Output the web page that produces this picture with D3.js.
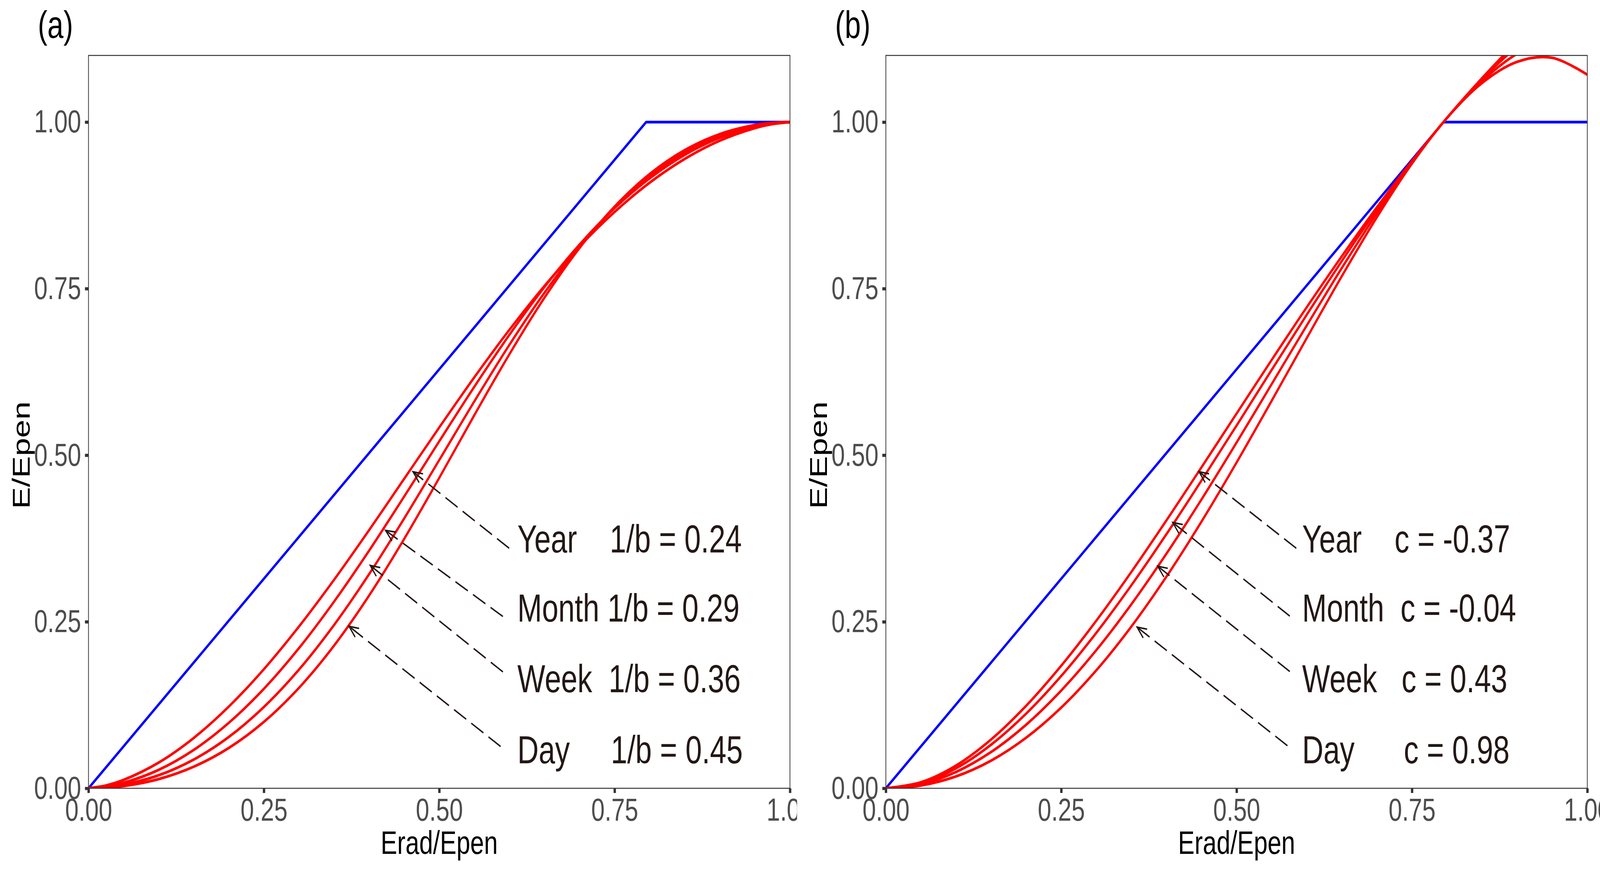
<!DOCTYPE html>
<html lang="en">
  <head>
    <meta charset="utf-8">
    <title>E/Epen vs Erad/Epen</title>
    <script type="text/javascript" src="https://cdn.jsdelivr.net/npm/d3@7"></script>
    <style type="text/css">
      html, body { margin: 0; padding: 0; background: #fff; overflow: hidden; }
      svg { display: block; width: 100vw; height: 100vh; }
      text { font-family: "Liberation Sans", Arial, sans-serif; }
      .lab { white-space: pre; }
    </style>
  </head>
  <body>
    <script type="text/javascript">

      //Tick values and labels (both axes)
      var ticks = [0, 0.25, 0.5, 0.75, 1];
      var tickLabels = ["0.00", "0.25", "0.50", "0.75", "1.00"];

      //Blue reference line
      var blueX = [0, 0.795, 1];
      var blueY = [0, 1, 1];

      //Panel (a) red curves
      var gridA = [0, 0.025, 0.05, 0.1, 0.15, 0.2, 0.25, 0.3, 0.35, 0.4, 0.45, 0.5,
                   0.55, 0.6, 0.65, 0.7, 0.75, 0.8, 0.85, 0.9, 0.95, 0.975, 1];
      var aYear  = [0, 0.0042, 0.0125, 0.0385, 0.0755, 0.1226, 0.1787, 0.2427, 0.3129, 0.3875, 0.4645, 0.5416,
                    0.6168, 0.6881, 0.7540, 0.8133, 0.8651, 0.9090, 0.9447, 0.9721, 0.9910, 0.9970, 1];
      var aMonth = [0, 0.0025, 0.0081, 0.0276, 0.0575, 0.0982, 0.1493, 0.2103, 0.2801, 0.3567, 0.4379, 0.5208,
                    0.6027, 0.6806, 0.7523, 0.8161, 0.8707, 0.9156, 0.9509, 0.9766, 0.9931, 0.9979, 1];
      var aWeek  = [0, 0.0015, 0.0053, 0.0195, 0.0431, 0.0770, 0.1220, 0.1781, 0.2450, 0.3214, 0.4050, 0.4926,
                    0.5807, 0.6656, 0.7438, 0.8131, 0.8716, 0.9186, 0.9544, 0.9794, 0.9944, 0.9984, 1];
      var aDay   = [0, 0.0009, 0.0034, 0.0138, 0.0324, 0.0605, 0.0996, 0.1507, 0.2141, 0.2893, 0.3743, 0.4659,
                    0.5600, 0.6515, 0.7364, 0.8110, 0.8731, 0.9220, 0.9579, 0.9819, 0.9955, 0.9988, 1];

      //Panel (b) red curves
      var gridB = [0, 0.05, 0.1, 0.15, 0.2, 0.25, 0.3, 0.35, 0.4, 0.45, 0.5,
                   0.55, 0.6, 0.65, 0.7, 0.75, 0.8, 0.85, 0.9, 0.95, 1];
      var bYear  = [0, 0.0090, 0.0341, 0.0732, 0.1238, 0.1839, 0.2515, 0.3248, 0.4021, 0.4818, 0.5625,
                    0.6429, 0.7220, 0.7986, 0.8720, 0.9414, 1.0063, 1.0661, 1.1206, 1.1696, 1.2132];
      var bMonth = [0, 0.0078, 0.0301, 0.0654, 0.1121, 0.1685, 0.2333, 0.3047, 0.3814, 0.4619, 0.5445,
                    0.6279, 0.7107, 0.7913, 0.8684, 0.9405, 1.0063, 1.0643, 1.1132, 1.1517, 1.1784];
      var bWeek  = [0, 0.0062, 0.0245, 0.0544, 0.0954, 0.1467, 0.2073, 0.2762, 0.3521, 0.4335, 0.5189,
                    0.6066, 0.6946, 0.7809, 0.8632, 0.9392, 1.0062, 1.0617, 1.1027, 1.1262, 1.1290];
      var bDay   = [0, 0.0043, 0.0178, 0.0415, 0.0759, 0.1211, 0.1770, 0.2428, 0.3177, 0.4003, 0.4890,
                    0.5816, 0.6757, 0.7686, 0.8571, 0.9376, 1.0062, 1.0587, 1.0904, 1.0964, 1.0711];

      //Annotation labels
      var labelsA = ["Year    1/b = 0.24", "Month 1/b = 0.29", "Week  1/b = 0.36", "Day     1/b = 0.45"];
      var labelsB = ["Year    c = -0.37", "Month  c = -0.04", "Week   c = 0.43", "Day      c = 0.98"];
      var labelY = [0.354, 0.25, 0.144, 0.0375];

      //Arrows: tip on the curve, tail next to the label (data units)
      var arrowsA = [[0.4626, 0.4751, 0.5997, 0.3603],
                     [0.4235, 0.3870, 0.5908, 0.2578],
                     [0.4016, 0.3345, 0.5908, 0.1746],
                     [0.3714, 0.2431, 0.5875, 0.0627]];
      var arrowsB = [[0.4464, 0.4751, 0.5851, 0.3603],
                     [0.4090, 0.3990, 0.5759, 0.2584],
                     [0.3876, 0.3333, 0.5759, 0.1752],
                     [0.3581, 0.2419, 0.5725, 0.0639]];

      //Width and height (drawing units; the svg is stretched to the window)
      var w = 5424;
      var h = 2236;
      var figW = 2703;

      var panels = [
        { tag: "(a)", off: 0, grid: gridA, curves: [aYear, aMonth, aWeek, aDay],
          labels: labelsA, labelX: 0.6114, arrows: arrowsA, clipW: 2702 },
        { tag: "(b)", off: figW, grid: gridB, curves: [bYear, bMonth, bWeek, bDay],
          labels: labelsB, labelX: 0.5935, arrows: arrowsB, clipW: w - figW }
      ];

      var svg = d3.select("body")
            .append("svg")
            .attr("viewBox", "0 0 " + w + " " + h)
            .attr("preserveAspectRatio", "none");

      var defs = svg.append("defs");
      defs.append("marker")
          .attr("id", "arr")
          .attr("markerUnits", "userSpaceOnUse")
          .attr("viewBox", "-40 -25 50 50")
          .attr("markerWidth", 50)
          .attr("markerHeight", 50)
          .attr("refX", 0)
          .attr("refY", 0)
          .attr("orient", "auto")
          .append("path")
          .attr("d", "M-32,-13L0,0L-32,13")
          .attr("fill", "none")
          .attr("stroke", "#231815")
          .attr("stroke-width", 4);

      panels.forEach(function(p, i) {
        var left = p.off + 300, right = p.off + 2678, top = 142, bottom = 2019;

        var xScale = d3.scaleLinear().domain([0, 1]).range([left, right]);
        var yScale = d3.scaleLinear().domain([0, 1.1]).range([bottom, top]);

        defs.append("clipPath").attr("id", "fig" + i)
            .append("rect").attr("x", p.off).attr("y", 0).attr("width", p.clipW).attr("height", h);
        defs.append("clipPath").attr("id", "plot" + i)
            .append("rect").attr("x", left).attr("y", top).attr("width", right - left).attr("height", bottom - top);

        var g = svg.append("g").attr("clip-path", "url(#fig" + i + ")");
        var plot = g.append("g").attr("clip-path", "url(#plot" + i + ")");

        var line = d3.line()
            .x(function(d) { return xScale(d[0]); })
            .y(function(d) { return yScale(d[1]); })
            .curve(d3.curveCatmullRom);

        //Blue line
        plot.append("path")
            .datum(blueX.map(function(x, k) { return [x, blueY[k]]; }))
            .attr("d", d3.line().x(function(d) { return xScale(d[0]); }).y(function(d) { return yScale(d[1]); }))
            .attr("fill", "none")
            .attr("stroke", "#0000FF")
            .attr("stroke-width", 7)
            .attr("stroke-linejoin", "round");

        //Red curves
        plot.selectAll("path.red")
            .data(p.curves)
            .enter()
            .append("path")
            .attr("class", "red")
            .attr("d", function(c) {
              return line(p.grid.map(function(x, k) { return [x, c[k]]; }));
            })
            .attr("fill", "none")
            .attr("stroke", "#FF0000")
            .attr("stroke-width", 7);

        //Arrows
        plot.selectAll("path.arrow")
            .data(p.arrows)
            .enter()
            .append("path")
            .attr("class", "arrow")
            .attr("d", function(a) {
              return "M" + xScale(a[2]) + "," + yScale(a[3]) + "L" + xScale(a[0]) + "," + yScale(a[1]);
            })
            .attr("fill", "none")
            .attr("stroke", "#231815")
            .attr("stroke-width", 4)
            .attr("stroke-dasharray", "48,20")
            .attr("marker-end", "url(#arr)");

        //Labels
        plot.selectAll("text.lab")
            .data(p.labels)
            .enter()
            .append("text")
            .attr("class", "lab")
            .attr("xml:space", "preserve")
            .attr("x", xScale(p.labelX))
            .attr("y", function(d, k) { return yScale(labelY[k]); })
            .attr("font-size", 100)
            .attr("fill", "#231815")
            .text(function(d) { return d; });

        //Panel border
        g.append("rect")
            .attr("x", left).attr("y", top)
            .attr("width", right - left).attr("height", bottom - top)
            .attr("fill", "none")
            .attr("stroke", "#333333")
            .attr("stroke-width", 2.5);

        //Axes
        var fmt = function(d) { return tickLabels[ticks.indexOf(d)]; };
        var xAxis = g.append("g")
            .attr("transform", "translate(0," + bottom + ")")
            .call(d3.axisBottom(xScale).tickValues(ticks).tickFormat(fmt).tickSize(12).tickPadding(13));
        var yAxis = g.append("g")
            .attr("transform", "translate(" + left + ",0)")
            .call(d3.axisLeft(yScale).tickValues(ticks).tickFormat(fmt).tickSize(12).tickPadding(13));
        [xAxis, yAxis].forEach(function(ax) {
          ax.select(".domain").remove();
          ax.selectAll(".tick line").attr("stroke", "#333333").attr("stroke-width", 8);
          ax.selectAll(".tick text")
            .attr("fill", "#4D4D4D")
            .attr("font-size", 82)
            .attr("font-family", "Liberation Sans, Arial, sans-serif");
        });

        //Axis titles
        g.append("text")
            .attr("x", (left + right) / 2)
            .attr("y", 2187)
            .attr("text-anchor", "middle")
            .attr("font-size", 84)
            .attr("fill", "#000")
            .text("Erad/Epen");
        g.append("text")
            .attr("transform", "translate(" + (p.off + 101) + "," + yScale(0.5) + ") rotate(-90)")
            .attr("text-anchor", "middle")
            .attr("font-size", 84)
            .attr("fill", "#000")
            .text("E/Epen");

        //Panel tag
        g.append("text")
            .attr("x", p.off + 128)
            .attr("y", 97)
            .attr("font-size", 98)
            .attr("fill", "#000")
            .text(p.tag);
      });

    </script>
  </body>
</html>
